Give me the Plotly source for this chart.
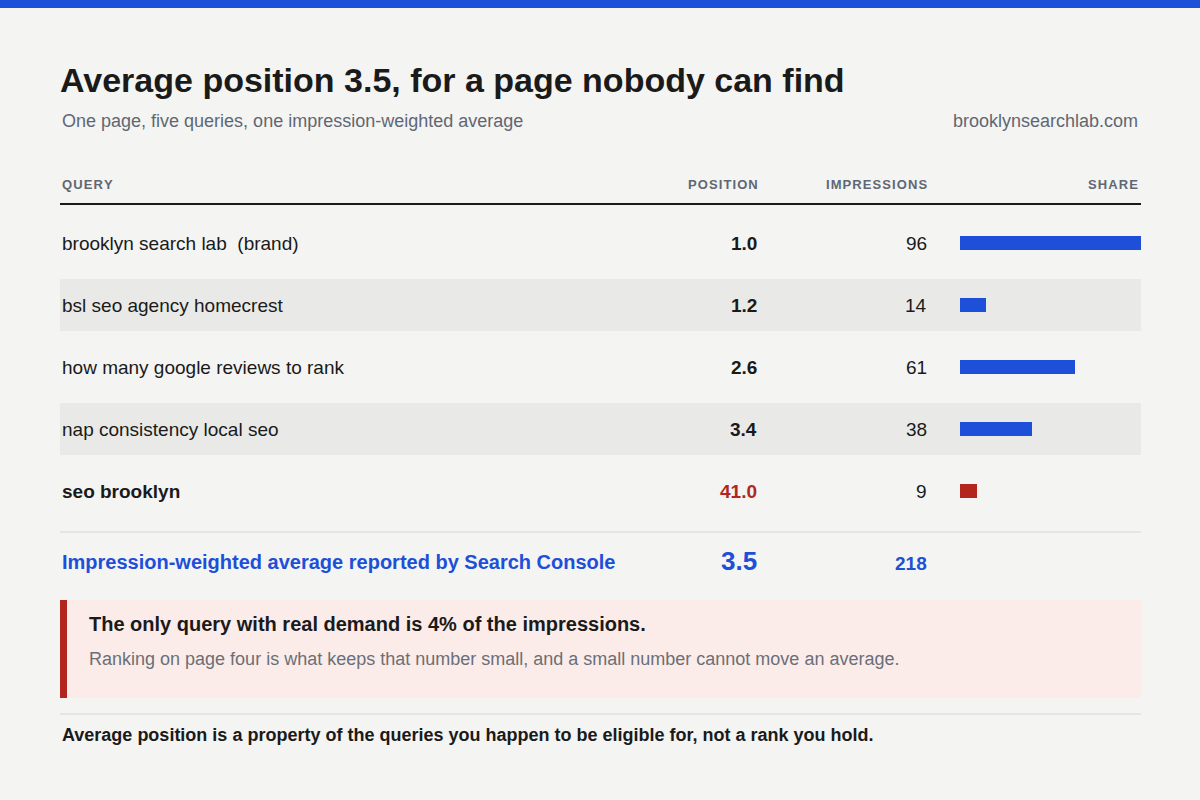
import plotly.graph_objects as go

queries = ["brooklyn search lab  (brand)", "bsl seo agency homecrest",
           "how many google reviews to rank", "nap consistency local seo", "seo brooklyn"]
positions = [1.0, 1.2, 2.6, 3.4, 41.0]
impressions = [96, 14, 61, 38, 9]
avg_position = 3.5
total_impressions = 218

BLUE = "#1d4fd8"
RED = "#b3261e"
DARK = "#1a1a1a"
GRAY = "#5f6773"
FONT = "Liberation Sans"

top, row_h = 243, 62
row_y = [top + i * row_h for i in range(len(queries))]
colors = [RED if p > 10 else BLUE for p in positions]

fig = go.Figure()
fig.add_trace(go.Bar(
    x=impressions, y=row_y, orientation="h", width=14,
    marker=dict(color=colors, line=dict(width=0)),
    xaxis="x2", yaxis="y", hoverinfo="skip", showlegend=False,
))

shapes = [
    dict(type="rect", xref="x", yref="y", x0=0, x1=1200, y0=0, y1=8, fillcolor=BLUE, line_width=0, layer="below"),
    dict(type="line", xref="x", yref="y", x0=60, x1=1141, y0=204, y1=204, line=dict(color=DARK, width=2)),
    dict(type="line", xref="x", yref="y", x0=60, x1=1141, y0=532, y1=532, line=dict(color="#d6d6d3", width=1)),
    dict(type="rect", xref="x", yref="y", x0=60, x1=1141, y0=600, y1=698, fillcolor="#fbecea", line_width=0, layer="below"),
    dict(type="rect", xref="x", yref="y", x0=60, x1=67, y0=600, y1=698, fillcolor=RED, line_width=0, layer="below"),
    dict(type="line", xref="x", yref="y", x0=60, x1=1141, y0=714, y1=714, line=dict(color="#d6d6d3", width=1)),
]
for i, y in enumerate(row_y):
    if i % 2 == 1:
        shapes.append(dict(type="rect", xref="x", yref="y", x0=60, x1=1141, y0=y - 26, y1=y + 26,
                           fillcolor="#e9eae7", line_width=0, layer="below"))

ann = []


def txt(x, y, s, size, color=DARK, anchor="left", bold=False):
    if bold:
        s = "<b>" + s + "</b>"
    ann.append(dict(x=x, y=y, xref="x", yref="y", text=s, showarrow=False, xanchor=anchor, yanchor="middle",
                    font=dict(family=FONT, size=size, color=color)))


txt(58, 80, "Average position 3.5, for a page nobody can find", 34, bold=True)
txt(60, 121, "One page, five queries, one impression-weighted average", 18, GRAY)
txt(1140, 121, "brooklynsearchlab.com", 18, GRAY, "right")

for x, s, a in [(60, "Q U E R Y", "left"), (760, "P O S I T I O N", "right"),
                (929, "I M P R E S S I O N S", "right"), (1140, "S H A R E", "right")]:
    txt(x, 184, s.replace(" ", "\u200a"), 13, GRAY, a, bold=True)

for i, y in enumerate(row_y):
    last = positions[i] > 10
    txt(60, y, queries[i], 19, DARK, bold=last)
    txt(759, y, "%.1f" % positions[i], 19, RED if last else DARK, "right", bold=True)
    txt(929, y, str(impressions[i]), 19, DARK, "right")

txt(60, 562, "Impression-weighted average reported by Search Console", 20, BLUE, bold=True)
txt(759, 561, "%.1f" % avg_position, 26, BLUE, "right", bold=True)
txt(929, 563, str(total_impressions), 19, BLUE, "right", bold=True)

txt(87, 624, "The only query with real demand is 4% of the impressions.", 20, DARK, bold=True)
txt(87, 659, "Ranking on page four is what keeps that number small, and a small number cannot move an average.", 18, "#6b6f76")
txt(60, 735, "Average position is a property of the queries you happen to be eligible for, not a rank you hold.", 18, DARK, bold=True)

fig.update_layout(
    width=1200, height=800, margin=dict(l=0, r=0, t=0, b=0),
    paper_bgcolor="#f4f4f2", plot_bgcolor="rgba(0,0,0,0)",
    xaxis=dict(range=[0, 1200], domain=[0, 1], visible=False, fixedrange=True),
    xaxis2=dict(range=[0, max(impressions)], domain=[960 / 1200, 1141 / 1200], anchor="y",
                visible=False, fixedrange=True),
    yaxis=dict(range=[800, 0], domain=[0, 1], visible=False, fixedrange=True),
    shapes=shapes, annotations=ann, bargap=0,
)

fig.write_html("out.html", config={"displayModeBar": False},
               post_script="document.body.style.margin='0';document.body.style.background='#f4f4f2';")
